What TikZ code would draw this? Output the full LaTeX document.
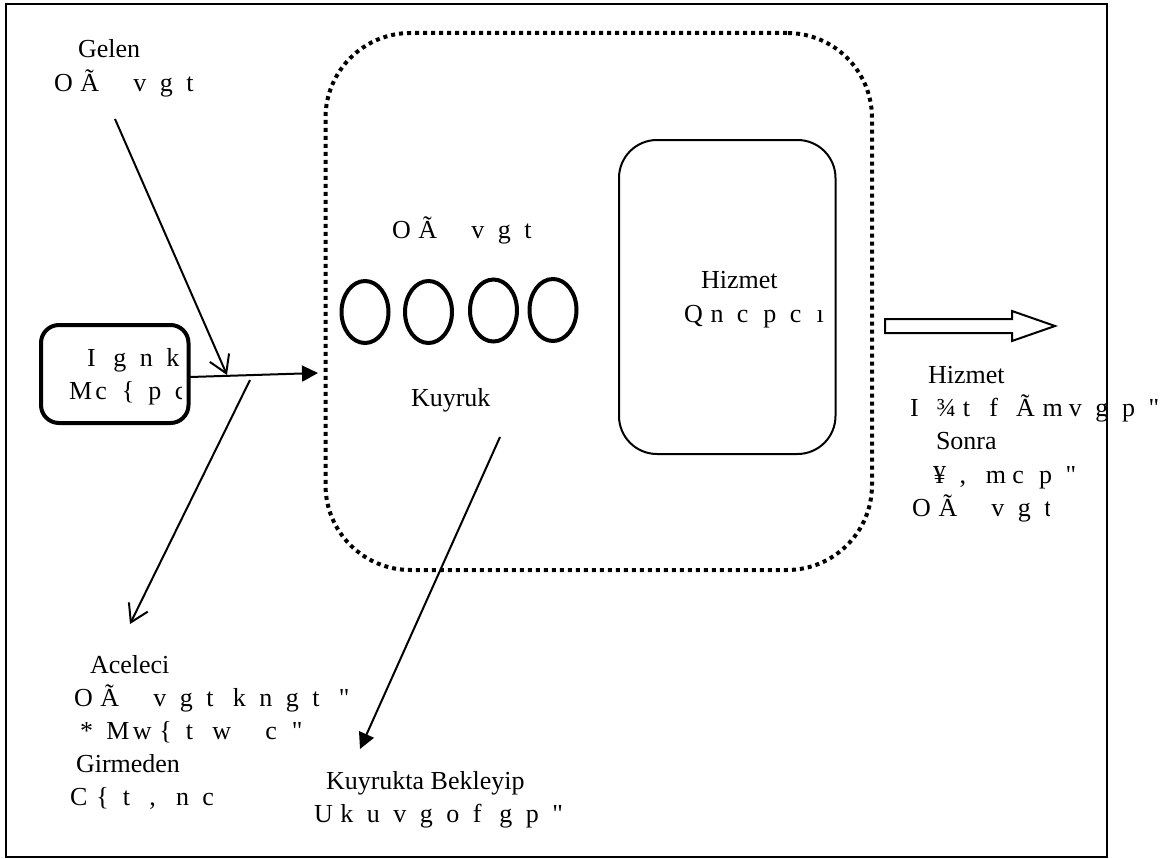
\documentclass[tikz,border=0pt]{standalone}
\usepackage{fontspec}
\setmainfont{Liberation Serif}
\newfontfamily\rawserif{Liberation Serif}
\usetikzlibrary{arrows.meta,shapes.geometric}
\makeatletter
\newcommand\cellrow[1]{\@tfor\cellch:=#1\do{\makebox[26.5pt][l]{\cellch}}}
\makeatother
\newcommand\qmark{{\rawserif\char34\relax}}
\tikzset{
  lbl/.style={anchor=base west,inner sep=0pt,outer sep=0pt,font=\fontsize{26}{30}\selectfont},
  box/.style={draw=black,rectangle,inner sep=0pt,outer sep=0pt},
  frameb/.style={box,line width=2pt},
  queuebox/.style={box,line width=4pt,rounded corners=85pt,dash pattern=on 4pt off 4pt},
  servicebox/.style={box,line width=2pt,rounded corners=38pt},
  sourcebox/.style={box,line width=4pt,rounded corners=18pt},
  cust/.style={draw=black,ellipse,line width=4pt,inner sep=0pt,outer sep=0pt,minimum width=47pt,minimum height=62pt},
  conn/.style={draw=black,line width=2pt},
  openarrow/.style={conn,-{Straight Barb[length=17pt,width=21pt,line width=2pt]}},
  solidarrow/.style={conn,-{Triangle[length=16pt,width=16pt]}},
  hollow/.style={draw=black,line width=2pt,fill=white,line join=miter}
}
\begin{document}
\begin{tikzpicture}[x=1pt,y=-1pt]
\useasboundingbox (0,0) rectangle (1176,859);
\node[frameb,minimum width=1100.5pt,minimum height=853pt] (frame) at (556.5,430.5) {};
\node[queuebox,minimum width=546.5pt,minimum height=537pt] (queue) at (598.75,301.5) {};
\node[servicebox,minimum width=216.5pt,minimum height=314pt] (service) at (727.25,297) {};
\node[sourcebox,minimum width=147.5pt,minimum height=98pt] (source) at (114.75,374) {};
\node[cust] (c1) at (365,312) {};
\node[cust] (c2) at (428.5,312) {};
\node[cust] (c3) at (493.5,310.5) {};
\node[cust] (c4) at (553,310) {};
% free connector ends
\coordinate (arrivalStart) at (115,119);
\coordinate (arrivalEnd) at (227,375);
\coordinate (mainStart) at (190,377);
\coordinate (mainEnd) at (318,373);
\coordinate (balkStart) at (250,380);
\coordinate (balkEnd) at (130,624);
\coordinate (renegeStart) at (500,437);
\coordinate (renegeEnd) at (360,749);
\draw[openarrow] (arrivalStart) -- (arrivalEnd);
\draw[solidarrow] (mainStart) -- (mainEnd);
\draw[openarrow] (balkStart) -- (balkEnd);
\draw[solidarrow] (renegeStart) -- (renegeEnd);
\draw[hollow] (885,319) -- (1012,319) -- (1012,311) -- (1055,326) -- (1012,341) -- (1012,333) -- (885,333) -- cycle;
% labels
\node[lbl] (t1) at (78,58) {Gelen};
\node[lbl] (t2) at (54,92) {\cellrow{OÃ~vgt}};
\begin{scope}
\clip (41,340) rectangle (181,410);
\node[lbl] (t3) at (87,366) {\cellrow{Ignk}};
\node[lbl] (t4) at (69,399) {\cellrow{Mc\{pc}};
\end{scope}
\node[lbl] (t5) at (392,238) {\cellrow{OÃ~vgt}};
\node[lbl] (t6) at (411,406) {Kuyruk};
\node[lbl] (t7) at (701,288) {Hizmet};
\node[lbl] (t8) at (684,322) {\cellrow{Qncpcı}};
\node[lbl] (t9) at (928,383) {Hizmet};
\node[lbl] (t10) at (910,416) {\cellrow{I¾tfÃmvgp\qmark}};
\node[lbl] (t11) at (936,449) {Sonra};
\node[lbl] (t12) at (933,483) {\cellrow{¥,mcp\qmark}};
\begin{scope}
\clip (900,490) rectangle (1049.5,530);
\node[lbl] (t13) at (912,516) {\cellrow{OÃ~vgt}};
\end{scope}
\node[lbl] (t14) at (90,673) {Aceleci};
\node[lbl] (t15) at (74,706) {\cellrow{OÃ~vgtkngt\qmark}};
\node[lbl] (t16) at (80,739) {\cellrow{*Mw\{tw~c\qmark}};
\node[lbl] (t17) at (76,772) {Girmeden};
\node[lbl] (t18) at (70,805) {\cellrow{C\{t,nc}};
\node[lbl] (t19) at (326,789) {Kuyrukta Bekleyip};
\node[lbl] (t20) at (314,822) {\cellrow{Ukuvgofgp\qmark}};
\end{tikzpicture}
\end{document}
